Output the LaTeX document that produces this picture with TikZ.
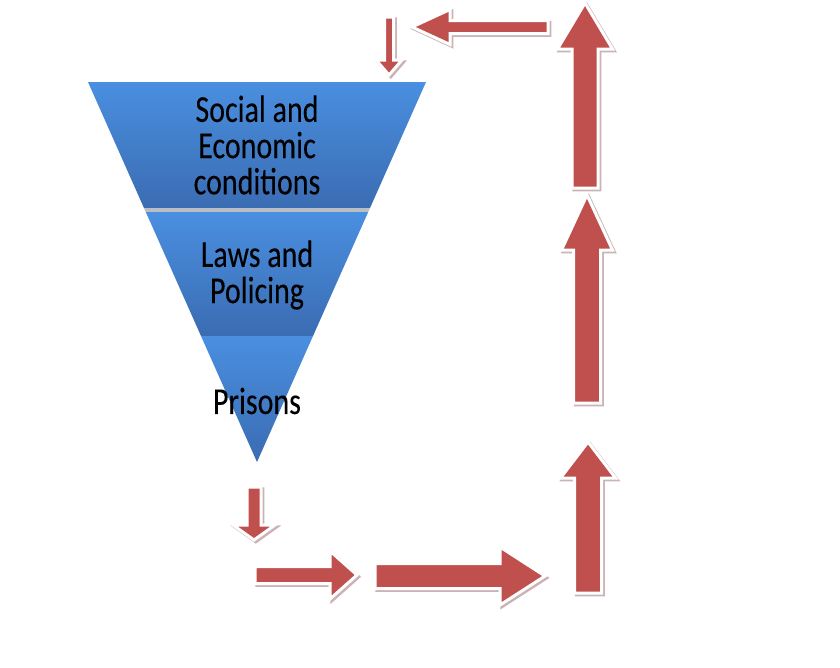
\documentclass[tikz,border=0pt]{standalone}
\usepackage{fontspec}
\setmainfont{Carlito}
\newfontfamily\bandfont[FakeBold=0.15]{Carlito}
\definecolor{ared}{HTML}{C0504D}
\definecolor{ashadow}{HTML}{CBB3B5}
\definecolor{btop}{HTML}{4A8FE0}
\definecolor{bbot}{HTML}{3A6CB2}
\definecolor{gapc}{HTML}{B8BEC6}
\newcommand{\blockarr}[7]{%
  \begin{scope}[shift={(#1,#2)}]
    \begin{scope}[xshift=1.8pt,yshift=-1.8pt,rotate=#3]
      \filldraw[fill=ashadow,draw=ashadow,line width=3pt,line join=miter]
        (0pt,-#5pt) -- (#4pt-#7pt,-#5pt) -- (#4pt-#7pt,-#6pt) -- (#4pt,0pt)
        -- (#4pt-#7pt,#6pt) -- (#4pt-#7pt,#5pt) -- (0pt,#5pt) -- cycle;
    \end{scope}
    \begin{scope}[rotate=#3]
      \filldraw[fill=ared,draw=white,line width=3pt,line join=miter]
        (0pt,-#5pt) -- (#4pt-#7pt,-#5pt) -- (#4pt-#7pt,-#6pt) -- (#4pt,0pt)
        -- (#4pt-#7pt,#6pt) -- (#4pt-#7pt,#5pt) -- (0pt,#5pt) -- cycle;
    \end{scope}
  \end{scope}}
\tikzset{
  band/.style={top color=btop,bottom color=bbot,draw=none},
  bandtext/.style={align=center,font=\bandfont\fontsize{30}{28.5}\selectfont,
    text=black,inner sep=0pt,yscale=1.27,transform shape}
}
\begin{document}
\begin{tikzpicture}[x=1pt,y=-1pt]
\fill[white] (0,0) rectangle (840,667);
\useasboundingbox (0,0) rectangle (840,667);
% funnel bands
\shade[band] (88,82) -- (426,82) -- (370,208) -- (144,208) -- cycle;
\fill[gapc] (144,208) -- (370,208) -- (368.2,212) -- (145.8,212) -- cycle;
\shade[band] (145.8,212) -- (368.2,212) -- (313,336) -- (201,336) -- cycle;
\shade[band] (201,336) -- (313,336) -- (257,462) -- cycle;
\node[bandtext] (soc) at (257,145) {Social and\\Economic\\conditions};
\node[bandtext] (law) at (257,275) {Laws and\\Policing};
\node[bandtext] (pri) at (257,401) {Prisons};
% arrows
\blockarr{389}{17}{-90}{58}{4.5}{13}{15}
\blockarr{548}{27}{180}{136}{6.5}{17.5}{38}
\blockarr{585}{188}{90}{185}{13}{27.5}{46}
\blockarr{587}{403}{90}{208}{13.5}{25.5}{55}
\blockarr{588}{593}{90}{151}{13.5}{27.5}{36}
\blockarr{254}{487}{-90}{53}{7}{21}{15}
\blockarr{255}{575}{0}{102}{8.5}{24}{27}
\blockarr{375}{576}{0}{170}{12.5}{29}{45}
\end{tikzpicture}
\end{document}
